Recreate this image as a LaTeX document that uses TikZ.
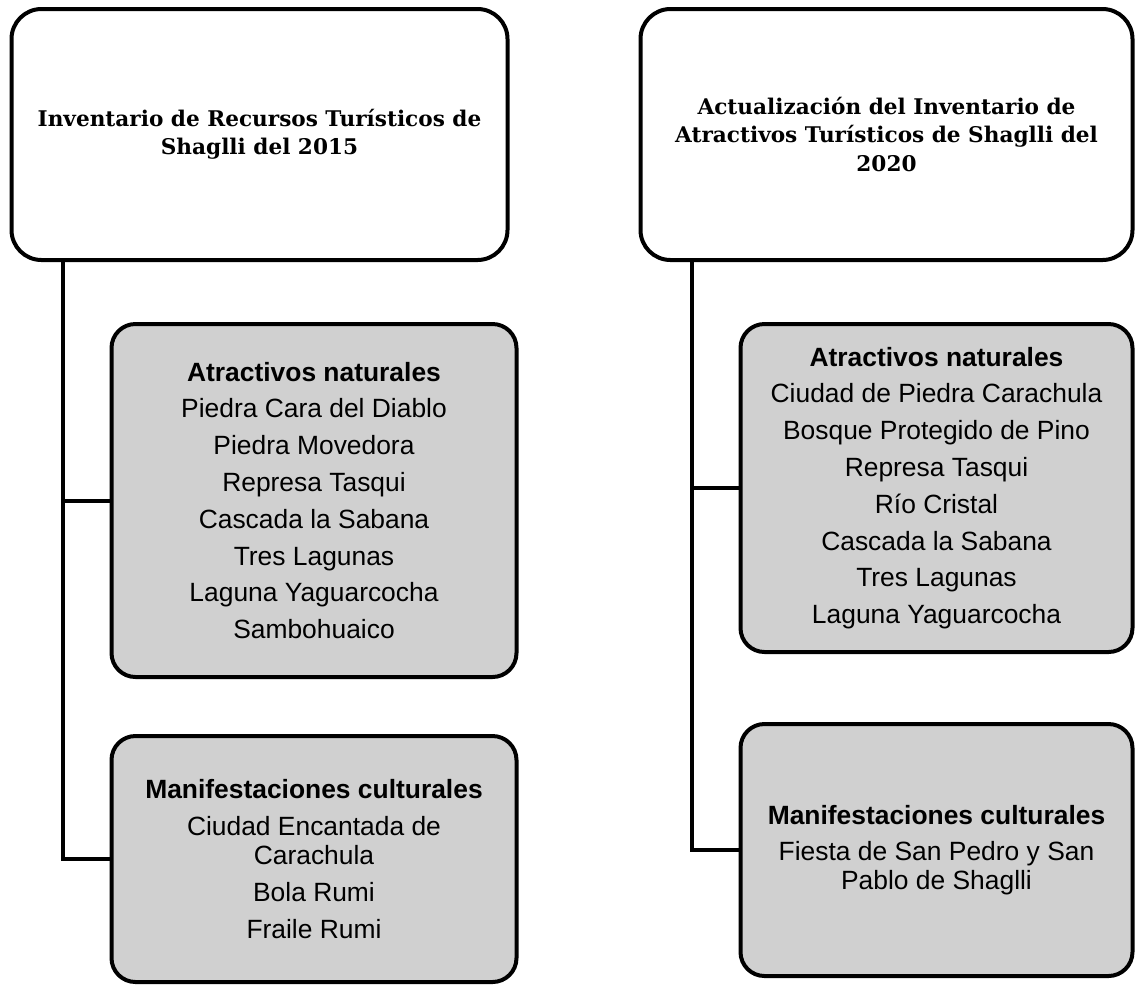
\documentclass[tikz,border=0pt]{standalone}
\usepackage{fontspec}
\usepackage{xcolor}
\usepackage{tikz}
\usetikzlibrary{positioning}
\setmainfont{Liberation Sans}
\newfontfamily\headfont{DejaVu Serif}
\definecolor{boxGray}{HTML}{D0D0D0}

\begin{document}
\begin{tikzpicture}[
    head/.style={rectangle, draw, line width=2pt, rounded corners=15pt, outer sep=0pt, minimum width=248pt, minimum height=125.5pt, align=center, font=\headfont\fontsize{10.8}{14.2}\selectfont\bfseries},
    group/.style={rectangle, draw, line width=2pt, rounded corners=12pt, outer sep=0pt, fill=boxGray, align=center, font=\fontsize{13.2}{18.4}\selectfont},
    link/.style={line width=2pt},
]
    \useasboundingbox (0,0) rectangle (568pt,-493.5pt);

    % encabezados
    \node[head] (headL) at (129.75pt,-67.25pt) {Inventario de Recursos Turísticos de\\Shaglli del 2015};
    \node[head, minimum width=246pt, right=66.5pt of headL] (headR) {Actualización del Inventario de\\Atractivos Turísticos de Shaglli del\\2020};

    % inventario 2015
    \node[group, minimum width=202.5pt, minimum height=176.5pt, below right=32pt and 50pt of headL.south west] (natL) {\textbf{Atractivos naturales}\\Piedra Cara del Diablo\\Piedra Movedora\\Represa Tasqui\\Cascada la Sabana\\Tres Lagunas\\Laguna Yaguarcocha\\Sambohuaico};
    \node[group, minimum width=202.5pt, minimum height=123pt, below=29.5pt of natL] (cultL) {\textbf{Manifestaciones culturales}\\Ciudad Encantada de\\[-4pt]Carachula\\Bola Rumi\\Fraile Rumi};

    % actualizacion 2020
    \node[group, minimum width=196pt, minimum height=164pt, below right=32pt and 50pt of headR.south west] (natR) {\textbf{Atractivos naturales}\\Ciudad de Piedra Carachula\\Bosque Protegido de Pino\\Represa Tasqui\\Río Cristal\\Cascada la Sabana\\Tres Lagunas\\Laguna Yaguarcocha};
    \node[group, minimum width=196pt, minimum height=126pt, below=36pt of natR] (cultR) {\textbf{Manifestaciones culturales}\\Fiesta de San Pedro y San\\[-4pt]Pablo de Shaglli};

    % conectores
    \coordinate (spineL) at ([xshift=25.5pt]headL.south west);
    \coordinate (spineR) at ([xshift=25.5pt]headR.south west);
    \draw[link] (spineL) |- (natL.west);
    \draw[link] (spineL) |- (cultL.west);
    \draw[link] (spineR) |- (natR.west);
    \draw[link] (spineR) |- (cultR.west);
\end{tikzpicture}
\end{document}
